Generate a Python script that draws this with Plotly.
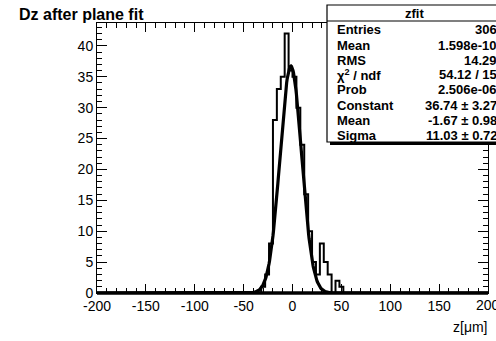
import numpy as np
import plotly.graph_objects as go

# ---------------- data ----------------
bin_lo, bin_hi, n_bins = -200.0, 200.0, 100
# nonzero bin contents (bins of width 4), starting at this left edge
first_edge = -32.0
counts_nonzero = [1, 3, 8, 28, 33, 35, 42, 36, 35, 30, 24, 16, 10, 5, 3, 8, 5, 3, 0, 2, 1]

# stats box content
stat_title = "zfit"
stat_labels = ["Entries", "Mean", "RMS", "χ<sup>2</sup> / ndf", "Prob", "Constant", "Mean", "Sigma"]
stat_values = ["306", "1.598e-10", "14.29", "54.12 / 15", "2.506e-06",
               "36.74 ± 3.27", "-1.67 ± 0.98", "11.03 ± 0.72"]
fit_constant, fit_mean, fit_sigma = 36.74, -1.67, 11.03

title_text = "Dz after plane fit"
xaxis_title = "z[μm]"
x_ticks = [-200, -150, -100, -50, 0, 50, 100, 150, 200]
y_ticks = [0, 5, 10, 15, 20, 25, 30, 35, 40]

# ---------------- build histogram ----------------
edges = np.linspace(bin_lo, bin_hi, n_bins + 1)
counts = np.zeros(n_bins)
i0 = int(round((first_edge - bin_lo) / (edges[1] - edges[0])))
counts[i0:i0 + len(counts_nonzero)] = counts_nonzero
hx = edges
hy = np.concatenate([counts, [counts[-1]]])

xf = np.linspace(bin_lo, bin_hi, 801)
yf = fit_constant * np.exp(-0.5 * ((xf - fit_mean) / fit_sigma) ** 2)

# ---------------- layout geometry ----------------
FW, FH = 496, 341
L, R, T, B = 97, 488, 23, 293
PW, PH = R - L, B - T
def px(x):
    return (x - L) / PW
def py(y):
    return (B - y) / PH

FONT = "Liberation Sans, Arial, Helvetica, sans-serif"

fig = go.Figure()
fig.add_trace(go.Scatter(x=hx, y=hy, mode="lines", line=dict(color="black", width=2, shape="hv"),
                         hoverinfo="skip", showlegend=False))
fig.add_trace(go.Scatter(x=xf, y=yf, mode="lines", line=dict(color="black", width=3.2),
                         hoverinfo="skip", showlegend=False))

shapes = []
# thick baseline (fit function along zero)
shapes.append(dict(type="line", xref="paper", yref="paper", x0=0, x1=1, y0=0, y1=0,
                   line=dict(color="black", width=3.5), layer="above"))
# stats box shadow + box
bx0, bx1, by0, by1 = 327, 502, 5, 142
shapes.append(dict(type="rect", xref="paper", yref="paper", x0=px(bx0 + 3), x1=px(bx1 + 3),
                   y0=py(by1 + 3), y1=py(by0 + 3), fillcolor="black", line=dict(width=0), layer="above"))
shapes.append(dict(type="rect", xref="paper", yref="paper", x0=px(bx0), x1=px(bx1),
                   y0=py(by1), y1=py(by0), fillcolor="white", line=dict(color="black", width=1.2), layer="above"))
shapes.append(dict(type="line", xref="paper", yref="paper", x0=px(bx0), x1=px(bx1),
                   y0=py(21), y1=py(21), line=dict(color="black", width=1.2), layer="above"))

annotations = []
annotations.append(dict(text=f"<b>{stat_title}</b>", xref="paper", yref="paper", x=px((bx0 + bx1) / 2),
                        y=py(13), showarrow=False, xanchor="center", yanchor="middle",
                        font=dict(family=FONT, size=13, color="black")))
for i, (lab, val) in enumerate(zip(stat_labels, stat_values)):
    yy = py(30 + 15 * i)
    annotations.append(dict(text=f"<b>{lab}</b>", xref="paper", yref="paper", x=px(335), y=yy,
                            showarrow=False, xanchor="left", yanchor="middle",
                            font=dict(family=FONT, size=13, color="black")))
    annotations.append(dict(text=f"<b>{val}</b>", xref="paper", yref="paper", x=px(499), y=yy,
                            showarrow=False, xanchor="right", yanchor="middle",
                            font=dict(family=FONT, size=13, color="black")))
annotations.append(dict(text=f"<b>{title_text}</b>", xref="paper", yref="paper", x=px(17), y=py(15),
                        showarrow=False, xanchor="left", yanchor="middle",
                        font=dict(family=FONT, size=16, color="black")))
annotations.append(dict(text=xaxis_title, xref="paper", yref="paper", x=px(490), y=py(327),
                        showarrow=False, xanchor="right", yanchor="middle",
                        font=dict(family=FONT, size=14, color="black")))
# last x tick label, which runs past the page edge (axis hides it)
annotations.append(dict(text=str(x_ticks[-1]), xref="x", yref="paper", x=x_ticks[-1], y=py(305),
                        showarrow=False, xanchor="center", yanchor="middle",
                        font=dict(family=FONT, size=14, color="black")))

fig.update_layout(
    width=FW, height=FH,
    margin=dict(l=L, r=FW - R, t=T, b=FH - B, pad=0, autoexpand=False),
    paper_bgcolor="white", plot_bgcolor="white",
    shapes=shapes, annotations=annotations,
    font=dict(family=FONT, size=14, color="black"),
    xaxis=dict(range=[bin_lo, bin_hi], tickvals=x_ticks, ticktext=[str(v) for v in x_ticks],
               ticks="inside", ticklen=9, tickwidth=1, tickcolor="black",
               showline=True, linecolor="black", linewidth=1, mirror="allticks",
               showgrid=False, zeroline=False, automargin=False,
               minor=dict(dtick=10, ticks="inside", ticklen=5, tickwidth=1, tickcolor="black", showgrid=False),
               tickfont=dict(family=FONT, size=14, color="black")),
    yaxis=dict(range=[0, 43.7], tickvals=y_ticks, ticktext=[str(v) for v in y_ticks],
               ticks="inside", ticklen=10, tickwidth=1, tickcolor="black",
               showline=True, linecolor="black", linewidth=1, mirror="allticks",
               showgrid=False, zeroline=False, automargin=False,
               minor=dict(dtick=1, ticks="inside", ticklen=5, tickwidth=1, tickcolor="black", showgrid=False),
               tickfont=dict(family=FONT, size=14, color="black")),
)

fig.write_html("out.html")
